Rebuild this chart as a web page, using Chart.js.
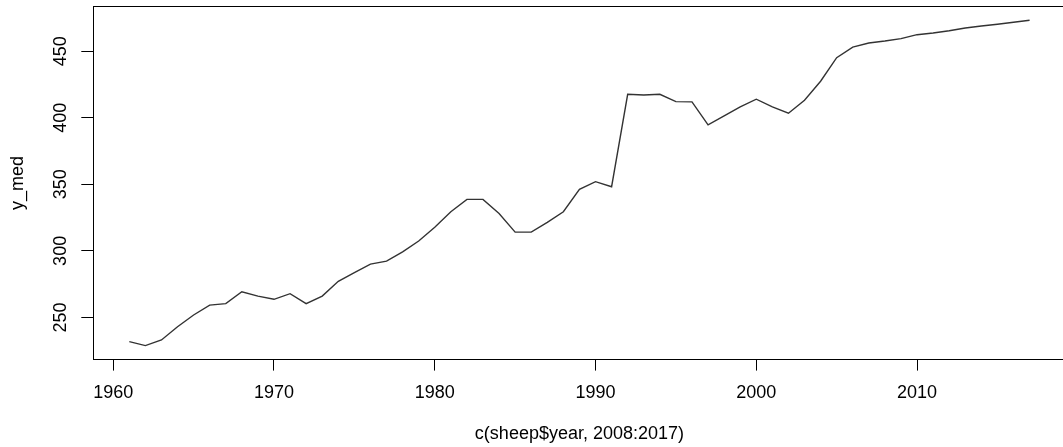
<!DOCTYPE html>
<html>
<head>
<meta charset="utf-8">
<script src="https://cdn.jsdelivr.net/npm/chart.js@4/dist/chart.umd.min.js"></script>
<style>
html,body{margin:0;padding:0;background:#fff;overflow:hidden;width:1063px;height:447px;}
canvas{display:block;}
</style>
</head>
<body>
<canvas id="c" width="1072" height="447"></canvas>
<script>
const years = [1961,1962,1963,1964,1965,1966,1967,1968,1969,1970,
  1971,1972,1973,1974,1975,1976,1977,1978,1979,1980,
  1981,1982,1983,1984,1985,1986,1987,1988,1989,1990,
  1991,1992,1993,1994,1995,1996,1997,1998,1999,2000,
  2001,2002,2003,2004,2005,2006,2007,2008,2009,2010,
  2011,2012,2013,2014,2015,2016,2017];
const yMed = [231.8,228.8,233,243,251.8,259.2,260.3,269.3,266,263.6,
  267.8,260.3,266,277.1,283.6,290,292.3,299.3,307.4,317.8,
  329.4,338.7,338.7,328.1,314.1,314.1,321.4,329.4,346.2,352,
  348.2,417.7,417.2,417.7,412.2,412,394.7,401.4,408.2,414,
  408.2,403.5,413.2,427.5,445.2,453.2,456.2,457.7,459.5,462.5,
  463.8,465.5,467.5,469,470.3,471.8,473.3];
const xTicks = [1960,1970,1980,1990,2000,2010];
const yTicks = [250,300,350,400,450];
const xTitle = 'c(sheep$year, 2008:2017)';
const yTitle = 'y_med';

const xMin = Math.min(...years), xMax = Math.max(...years);
const yMin = Math.min(...yMed), yMax = Math.max(...yMed);
const xExt = (xMax - xMin) * 0.04, yExt = (yMax - yMin) * 0.04;

const font = {family: 'Liberation Sans, Arial, Helvetica, sans-serif', size: 18};

const boxPlugin = {
  id: 'box',
  afterDraw(chart) {
    const {ctx, chartArea: a} = chart;
    ctx.save();
    ctx.strokeStyle = '#000';
    ctx.lineWidth = 1;
    ctx.strokeRect(Math.round(a.left) + 0.5, Math.round(a.top) - 0.5,
      Math.round(a.right) - Math.round(a.left), Math.round(a.bottom) - Math.round(a.top) + 1);
    ctx.restore();
  }
};

new Chart(document.getElementById('c'), {
  type: 'line',
  data: {
    datasets: [{
      data: years.map((y, i) => ({x: y, y: yMed[i]})),
      borderColor: '#333333',
      borderWidth: 1.4,
      pointRadius: 0,
      tension: 0,
      fill: false
    }]
  },
  options: {
    responsive: false,
    animation: false,
    devicePixelRatio: 1,
    layout: {padding: {top: 7.3, right: 6.4, bottom: 0, left: 0}},
    plugins: {legend: {display: false}, tooltip: {enabled: false}},
    scales: {
      x: {
        type: 'linear',
        min: xMin - xExt,
        max: xMax + xExt,
        afterBuildTicks(s) { s.ticks = xTicks.map(v => ({value: v})); },
        afterFit(s) { s.height = 88.4; s.paddingLeft = 0; s.paddingRight = 0; },
        border: {display: false},
        grid: {display: true, drawOnChartArea: false, drawTicks: true, tickLength: 12, color: '#000', lineWidth: 1},
        ticks: {color: '#000', font: font, padding: 12, maxRotation: 0, autoSkip: false,
          callback: v => String(v)},
        title: {display: true, text: xTitle, color: '#000', font: font, padding: {top: 0, bottom: 2}}
      },
      y: {
        type: 'linear',
        min: yMin - yExt,
        max: yMax + yExt,
        afterBuildTicks(s) { s.ticks = yTicks.map(v => ({value: v})); },
        afterFit(s) { s.width = 93.3; s.paddingTop = 0; s.paddingBottom = 0; },
        border: {display: false},
        grid: {display: true, drawOnChartArea: false, drawTicks: true, tickLength: 12, color: '#000', lineWidth: 1},
        ticks: {color: '#000', font: font, padding: 5, minRotation: 90, maxRotation: 90,
          crossAlign: 'center', autoSkip: false, callback: v => String(v)},
        title: {display: true, text: yTitle, color: '#000', font: font, padding: {top: 7, bottom: 0}}
      }
    }
  },
  plugins: [boxPlugin]
});
</script>
</body>
</html>
